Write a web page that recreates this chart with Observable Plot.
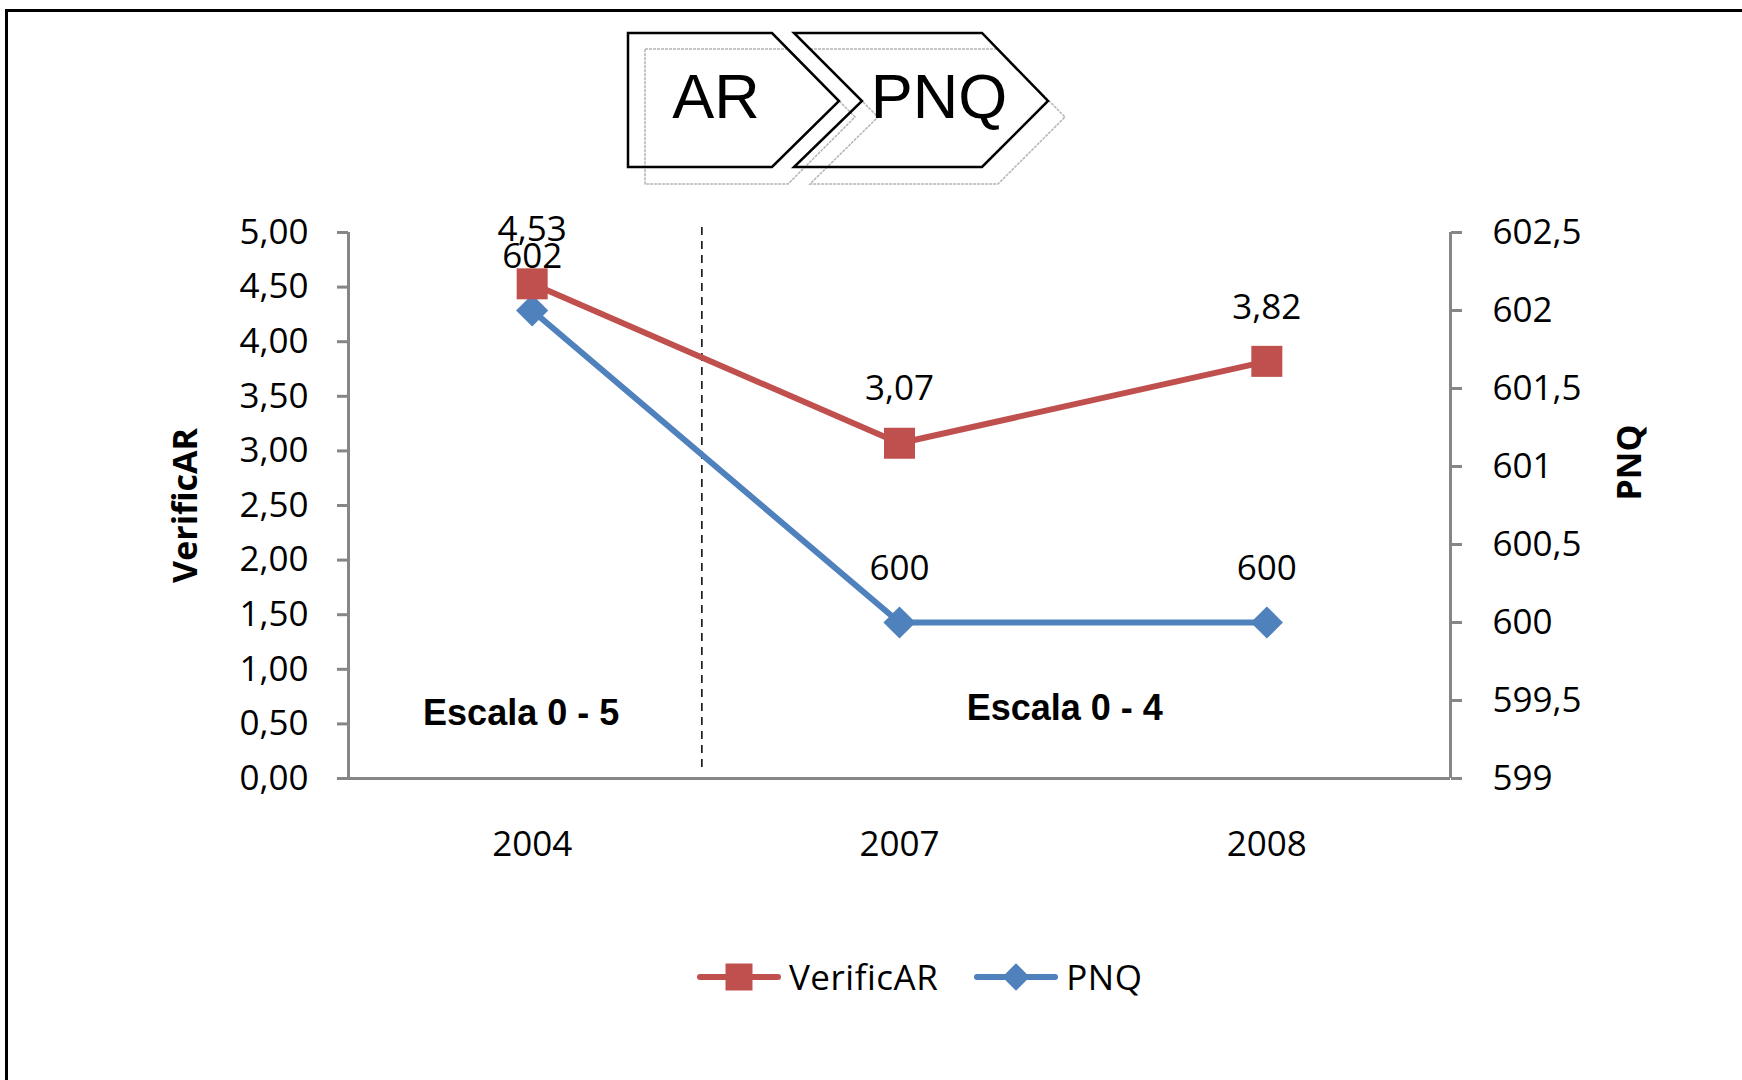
<!DOCTYPE html>
<html>
<head>
<meta charset="utf-8">
<script src="https://cdn.jsdelivr.net/npm/d3@7"></script>
<script src="https://cdn.jsdelivr.net/npm/@observablehq/plot@0.6"></script>
<style>
  html, body { margin: 0; padding: 0; background: #fff; }
  #page { position: relative; width: 1742px; height: 1080px; overflow: hidden; background: #fff; }
  #border { position: absolute; left: 5px; top: 9px; width: 1800px; height: 1200px; border-top: 3px solid #000; border-left: 3px solid #000; box-sizing: border-box; }
  #header { position: absolute; left: 0; top: 0; }
  #chart { position: absolute; left: 0; top: 0; }
  #legend { position: absolute; left: 697px; top: 953px; display: flex; align-items: center; font-family: "Open Sans", sans-serif; font-size: 35px; color: #000; }
  #legend .item { display: flex; align-items: center; }
  #legend .item svg { display: block; }
  #legend .item span { margin-left: 8px; letter-spacing: 0.5px; }
</style>
</head>
<body>
<div id="page">
  <div id="border"></div>
  <div id="chart"></div>
  <svg id="header" width="1742" height="200" xmlns="http://www.w3.org/2000/svg">
    <g fill="none" stroke="#b4b4b4" stroke-width="1.5" stroke-dasharray="3,1">
      <polygon points="645,49 788,49 855,117 788,184 645,184"/>
      <polygon points="810,49 998,49 1065,117 998,184 810,184 878,117"/>
    </g>
    <g fill="none" stroke="#000" stroke-width="2.5" stroke-linejoin="miter">
      <polygon points="628,33 772,33 839,101 772,167 628,167"/>
      <polygon points="794,33 982,33 1048,101 982,167 794,167 862,101"/>
    </g>
    <g font-family="'Liberation Sans', Arial, sans-serif" font-size="63" fill="#000" text-anchor="middle">
      <text x="716" y="118">AR</text>
      <text x="939" y="118">PNQ</text>
    </g>
  </svg>
  <div id="legend"></div>
</div>
<script>
// ---- data ----
const years = ["2004", "2007", "2008"];
const verificar = [4.53, 3.07, 3.82];
const pnq = [602, 600, 600];
const leftTicks = [0, 0.5, 1, 1.5, 2, 2.5, 3, 3.5, 4, 4.5, 5];
const rightTicks = [599, 599.5, 600, 600.5, 601, 601.5, 602, 602.5];
const leftDomain = [0, 5];
const rightDomain = [599, 602.5];
const seriesNames = ["VerificAR", "PNQ"];
const seriesColors = ["#C0504D", "#4F81BD"];
const seriesSymbols = ["square", "diamond2"];
const annotations = [
  {text: "Escala 0 - 5", x: -0.03, y: 0.6},
  {text: "Escala 0 - 4", x: 1.45, y: 0.64}
];
const separator = {x: 0.462, y1: 0.1, y2: 5.07};

// ---- helpers ----
const axisGray = "#868686";
const comma = s => s.replace(".", ",");
const toLeft = p => leftDomain[0] + (p - rightDomain[0]) / (rightDomain[1] - rightDomain[0]) * (leftDomain[1] - leftDomain[0]);
const fromLeft = v => rightDomain[0] + (v - leftDomain[0]) / (leftDomain[1] - leftDomain[0]) * (rightDomain[1] - rightDomain[0]);
const xDomain = [-0.5, years.length - 0.5];

const rows = years.map((year, i) => ({i, year, verificar: verificar[i], pnq: pnq[i], pnqLeft: toLeft(pnq[i])}));

const chart = Plot.plot({
  width: 1742,
  height: 900,
  marginTop: 232,
  marginBottom: 122,
  marginLeft: 348,
  marginRight: 292,
  style: {background: "transparent", fontFamily: "'Open Sans', sans-serif", fontSize: "35px", color: "#000", overflow: "visible"},
  x: {type: "linear", domain: xDomain},
  y: {type: "linear", domain: leftDomain},
  marks: [
    Plot.axisY({anchor: "left", ticks: leftTicks, tickFormat: d => comma(d.toFixed(2)), tickSize: 11, tickPadding: 29, stroke: axisGray, strokeWidth: 3, fill: "#000", label: null}),
    Plot.axisY({anchor: "right", ticks: rightTicks.map(toLeft), tickFormat: d => comma(String(Math.round(fromLeft(d) * 10) / 10)), tickSize: 11, tickPadding: 31, stroke: axisGray, strokeWidth: 3, fill: "#000", label: null}),
    Plot.axisX({ticks: years.map((_, i) => i), tickFormat: i => years[i], tickSize: 0, tickPadding: 53, fill: "#000", label: null}),
    Plot.ruleX([xDomain[0], xDomain[1]], {y1: leftDomain[0], y2: leftDomain[1], stroke: axisGray, strokeWidth: 3}),
    Plot.ruleY([leftDomain[0]], {stroke: axisGray, strokeWidth: 3}),
    Plot.ruleX([separator.x], {y1: separator.y1, y2: separator.y2, stroke: "#000", strokeWidth: 1.5, strokeDasharray: "8,6"}),
    Plot.line(rows, {x: "i", y: "pnqLeft", stroke: seriesColors[1], strokeWidth: 6}),
    Plot.dot(rows, {x: "i", y: "pnqLeft", symbol: seriesSymbols[1], r: 14.5, fill: seriesColors[1], stroke: "none"}),
    Plot.line(rows, {x: "i", y: "verificar", stroke: seriesColors[0], strokeWidth: 6}),
    Plot.dot(rows, {x: "i", y: "verificar", symbol: seriesSymbols[0], r: 17.5, fill: seriesColors[0], stroke: "none"}),
    Plot.text(rows, {x: "i", y: "verificar", text: d => comma(d.verificar.toFixed(2)), dy: -54, fill: "#000", fontSize: 35}),
    Plot.text(rows, {x: "i", y: "pnqLeft", text: d => String(d.pnq), dy: -54, fill: "#000", fontSize: 35}),
    Plot.text(annotations, {x: "x", y: "y", text: "text", fontFamily: "'Liberation Sans', Arial, sans-serif", fontWeight: "bold", fontSize: 36, fill: "#000"}),
    Plot.text([seriesNames[0]], {text: d => d, frameAnchor: "left", textAnchor: "middle", dx: -162, rotate: -90, fontWeight: "bold", fontSize: 34, fill: "#000"}),
    Plot.text([seriesNames[1]], {text: d => d, frameAnchor: "right", textAnchor: "middle", dx: 180, dy: -43, rotate: -90, fontWeight: "bold", fontSize: 34, fill: "#000"})
  ]
});
document.getElementById("chart").appendChild(chart);

// ---- legend ----
const legend = d3.select("#legend");
seriesNames.forEach((name, k) => {
  const item = legend.append("div").attr("class", "item").style("margin-left", k ? "36px" : "0px");
  const w = 84, h = 32;
  const svg = item.append("svg").attr("width", w).attr("height", h);
  svg.append("line").attr("x1", 3).attr("x2", w - 3).attr("y1", h / 2).attr("y2", h / 2)
    .attr("stroke", seriesColors[k]).attr("stroke-width", 6).attr("stroke-linecap", "round");
  const sym = seriesSymbols[k] === "square" ? d3.symbolSquare : d3.symbolDiamond2;
  const size = seriesSymbols[k] === "square" ? 27 * 27 : 22 * 22;
  svg.append("path").attr("transform", `translate(${w / 2},${h / 2})`)
    .attr("d", d3.symbol(sym, size)()).attr("fill", seriesColors[k]);
  item.append("span").text(name);
});
</script>
</body>
</html>
